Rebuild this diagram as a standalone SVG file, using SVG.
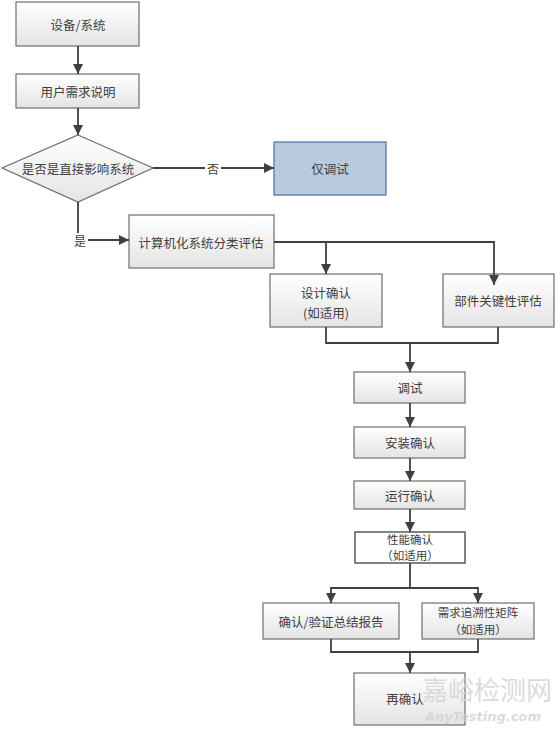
<svg xmlns="http://www.w3.org/2000/svg" width="560" height="731" viewBox="0 0 560 731">
<defs>
<linearGradient id="g" x1="0" y1="0" x2="0" y2="1">
<stop offset="0" stop-color="#ffffff"/>
<stop offset="1" stop-color="#e4e4e4"/>
</linearGradient>
<marker id="a" viewBox="0 0 10 10" refX="10" refY="5" markerWidth="10" markerHeight="10" markerUnits="userSpaceOnUse" orient="auto">
<path d="M0,0 L10,5 L0,10 z" fill="#404040"/>
</marker>
<style>
.box{fill:url(#g);stroke:#6e6e6e;stroke-width:1.2}
.blue{fill:#b9cadf;stroke:#4a6fa5;stroke-width:1.2}
.plain{fill:#ffffff;stroke:#303030;stroke-width:1.2}
.t{font-family:"Noto Sans CJK SC","Noto Sans",sans-serif;font-size:12.5px;fill:#404040;text-anchor:middle;dominant-baseline:central}
.s{font-size:11.5px}
.c{fill:none;stroke:#404040;stroke-width:1.8}
.ca{fill:none;stroke:#404040;stroke-width:1.8;marker-end:url(#a)}
.lbl{font-family:"Noto Sans CJK SC","Noto Sans",sans-serif;font-size:12px;fill:#404040;text-anchor:middle;dominant-baseline:central}
</style>
</defs>
<rect width="560" height="731" fill="#ffffff"/>
<g id="n1"><rect class="box" x="16" y="2" width="123" height="44"/><text class="t" x="78" y="24">设备/系统</text></g>
<g id="n2"><rect class="box" x="16" y="74" width="123" height="34"/><text class="t" x="78" y="91">用户需求说明</text></g>
<g id="n3"><polygon class="box" points="78,135 153,168 78,202 2,168"/><text class="t" x="78" y="168">是否是直接影响系统</text></g>
<g id="n4"><rect class="blue" x="274" y="142" width="112" height="53"/><text class="t" x="330" y="168">仅调试</text></g>
<g id="n5"><rect class="box" x="129" y="215" width="145" height="53"/><text class="t" x="201" y="242">计算机化系统分类评估</text></g>
<g id="n6"><rect class="box" x="270" y="274" width="112" height="53"/><text class="t" x="326" y="292">设计确认</text><text class="t" x="326" y="312">(如适用)</text></g>
<g id="n7"><rect class="box" x="443" y="274" width="111" height="53"/><text class="t" x="498" y="300">部件关键性评估</text></g>
<g id="n8"><rect class="box" x="354" y="372" width="111" height="31"/><text class="t" x="410" y="387">调试</text></g>
<g id="n9"><rect class="box" x="354" y="427" width="111" height="31"/><text class="t" x="410" y="442">安装确认</text></g>
<g id="n10"><rect class="box" x="354" y="481" width="111" height="28"/><text class="t" x="410" y="495">运行确认</text></g>
<g id="n11"><rect class="plain" x="355" y="532" width="110" height="31"/><text class="t s" x="410" y="539">性能确认</text><text class="t s" x="410" y="555">（如适用）</text></g>
<g id="n12"><rect class="box" x="263" y="603" width="136" height="36"/><text class="t" x="331" y="621">确认/验证总结报告</text></g>
<g id="n13"><rect class="box" x="422" y="603" width="112" height="36"/><text class="t s" x="478" y="612">需求追溯性矩阵</text><text class="t s" x="478" y="629">（如适用）</text></g>
<g id="n14"><rect class="box" x="354" y="673" width="111" height="52"/><text class="t" x="405" y="698">再确认</text></g>
<g id="connectors">
<line class="ca" x1="78" y1="46" x2="78" y2="74"/>
<line class="ca" x1="78" y1="108" x2="78" y2="135"/>
<path class="ca" d="M153,168 H274"/>
<rect x="205" y="161" width="16" height="14" fill="#ffffff"/>
<text class="lbl" x="213" y="168">否</text>
<path class="ca" d="M78,202 V240 H129"/>
<rect x="72" y="233" width="16" height="14" fill="#ffffff"/>
<text class="lbl" x="80" y="240">是</text>
<path class="ca" d="M274,242 H326 V274"/>
<path class="ca" d="M326,242 H494 V285"/>
<path class="c" d="M326,327 V343 H498 V327"/>
<line class="ca" x1="410" y1="343" x2="410" y2="372"/>
<line class="ca" x1="410" y1="403" x2="410" y2="427"/>
<line class="ca" x1="410" y1="458" x2="410" y2="481"/>
<line class="ca" x1="410" y1="509" x2="410" y2="532"/>
<line class="c" x1="410" y1="563" x2="410" y2="588"/>
<path class="ca" d="M410,588 H331 V603"/>
<path class="ca" d="M410,588 H478 V603"/>
<path class="c" d="M331,639 V652 H478 V639"/>
<line class="ca" x1="410" y1="652" x2="410" y2="673"/>
</g>
<g id="watermark">
<text x="487" y="688" font-family="Noto Sans CJK SC,sans-serif" font-size="26" fill="#d4d4d4" fill-opacity="0.85" text-anchor="middle" dominant-baseline="central">嘉峪检测网</text>
<text x="483" y="716" font-family="DejaVu Sans,sans-serif" font-size="13" font-style="italic" font-weight="bold" fill="#d4d4d4" fill-opacity="0.85" text-anchor="middle" dominant-baseline="central">AnyTesting.com</text>
</g>
</svg>
